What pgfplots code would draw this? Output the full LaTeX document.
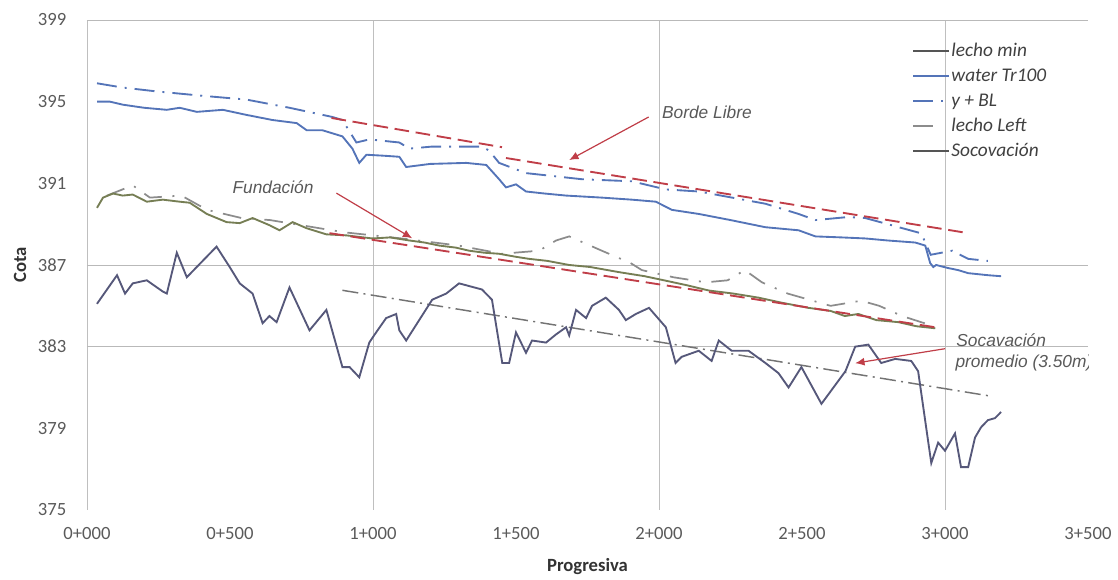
\documentclass[border=0pt]{standalone}
\usepackage{fontspec}
\setmainfont{Carlito}
\newfontfamily\arialf{Liberation Sans}
\usepackage{pgfplots}
\pgfplotsset{compat=1.18}
\usetikzlibrary{arrows.meta}
\definecolor{cblue}{RGB}{84,116,184}
\definecolor{colive}{RGB}{118,126,84}
\definecolor{cgray}{RGB}{140,140,140}
\definecolor{cslate}{RGB}{86,88,122}
\definecolor{cred}{RGB}{192,62,72}
\definecolor{ctick}{RGB}{90,90,90}
\definecolor{cdark}{RGB}{85,85,85}
\begin{document}
\begin{tikzpicture}
\useasboundingbox (-65.25pt,-52.5pt) rectangle (773.25pt,382.5pt);
\begin{axis}[
  at={(0,0)}, anchor=south west,
  scale only axis, width=750.75pt, height=367.5pt,
  xmin=0, xmax=3500, ymin=375, ymax=399,
  xtick={0,500,...,3500},
  xticklabels={0+000,0+500,1+000,1+500,2+000,2+500,3+000,3+500},
  ytick={375,379,...,399},
  /pgf/number format/assume math mode=true,
  axis line style={draw=none},
  major tick length=0pt,
  ticklabel style={font=\fontsize{14}{16}\selectfont, text=ctick},
  yticklabel style={xshift=-12pt},
  xticklabel style={yshift=-9.5pt},
  extra y ticks={383,387,399}, extra y tick labels={},
  extra y tick style={grid=major, major grid style={draw=gray!55, line width=0.7pt}},
  extra x ticks={0,1000,2000,3000}, extra x tick labels={},
  extra x tick style={grid=major, major grid style={draw=gray!50, line width=0.7pt}},
  xlabel={Progresiva}, ylabel={Cota},
  label style={font=\bfseries\fontsize{14}{16}\selectfont, text=black!80},
  xlabel style={at={(axis description cs:0.5,0)}, anchor=center, yshift=-42.75pt},
  ylabel style={at={(axis description cs:-0.0669,0.5)}, anchor=center},
  legend style={at={(rel axis cs:0.82,0.965)}, anchor=north west, draw=none, fill=none,
    font=\itshape\fontsize{14.5}{16}\selectfont, text=black!75, row sep=2.25pt,
    nodes={text height=11pt, text depth=3.5pt, inner sep=1pt}},
  legend cell align=left,
  legend image code/.code={\draw[#1] (0pt,0pt) -- (27pt,0pt);},
]
\addlegendimage{cdark, line width=1.3pt}
\addlegendentry{lecho min}
\addlegendimage{cblue, line width=1.5pt}
\addlegendentry{water Tr100}
\addlegendimage{cblue, line width=1.5pt, dash pattern=on 15pt off 6pt on 1.5pt off 6pt}
\addlegendentry{y + BL}
\addlegendimage{cgray, line width=1.3pt, dash pattern=on 15pt off 14pt}
\addlegendentry{lecho Left}
\addlegendimage{cdark, line width=1.3pt}
\addlegendentry{Socovación}

% Socavacion promedio (dash-dot)
\addplot[forget plot, gray!90!black, line width=1.1pt, dash pattern=on 12pt off 4pt on 1.5pt off 4pt] coordinates {(893,385.76) (3150,380.6)};

% water Tr100
\addplot[forget plot, cblue, line width=1.4pt] coordinates {
(35,395.0)(80,395.0)(126,394.85)(200,394.7)(279,394.6)(324,394.7)(384,394.5)(475,394.6)(558,394.35)(649,394.1)(733,393.95)(768,393.6)(823,393.6)(893,393.3)(928,392.7)(952,392.0)(977,392.4)(1040,392.35)(1092,392.3)(1116,391.8)(1200,391.95)(1326,392.0)(1396,391.9)(1441,391.2)(1465,390.8)(1500,390.95)(1535,390.6)(1600,390.5)(1675,390.4)(1800,390.3)(1905,390.2)(1989,390.1)(2045,389.7)(2139,389.5)(2250,389.2)(2372,388.85)(2488,388.7)(2547,388.4)(2640,388.35)(2721,388.3)(2800,388.2)(2896,388.1)(2931,387.95)(2948,387.1)(2959,386.9)(2969,387.0)(3011,386.85)(3046,386.75)(3081,386.6)(3150,386.5)(3196,386.45)};

% y + BL
\addplot[forget plot, cblue, line width=1.4pt, dash pattern=on 15pt off 6pt on 1.5pt off 6pt] coordinates {
(35,395.9)(120,395.7)(244,395.5)(394,395.3)(558,395.1)(708,394.7)(858,394.25)(893,394.1)(942,393.0)(987,393.15)(1092,393.0)(1127,392.7)(1207,392.8)(1382,392.8)(1406,392.6)(1441,392.0)(1535,391.5)(1731,391.2)(1905,391.1)(2024,390.7)(2139,390.6)(2372,390.0)(2488,389.5)(2547,389.2)(2662,389.35)(2721,389.3)(2917,388.55)(2950,387.5)(3025,387.7)(3081,387.3)(3150,387.2)};

% lecho Left
\addplot[forget plot, cgray, line width=1.3pt, dash pattern=on 14pt off 8pt on 1.5pt off 8pt] coordinates {
(70,390.4)(160,390.9)(220,390.3)(330,390.4)(420,389.7)(540,389.3)(640,389.2)(770,388.9)(900,388.6)(1100,388.3)(1300,387.95)(1450,387.55)(1581,387.7)(1640,388.2)(1686,388.4)(1735,388.1)(1800,387.7)(1900,387.1)(1940,386.75)(2050,386.4)(2163,386.15)(2240,386.25)(2300,386.75)(2360,386.15)(2450,385.6)(2600,385.0)(2707,385.25)(2770,385.0)(2850,384.5)(2950,384.05)};

% lecho min
\addplot[forget plot, colive, line width=1.4pt] coordinates {
(35,389.8)(56,390.3)(91,390.5)(125,390.4)(160,390.45)(209,390.1)(265,390.2)(324,390.1)(359,390.05)(419,389.5)(488,389.1)(534,389.05)(579,389.3)(638,388.95)(673,388.7)(719,389.1)(768,388.8)(837,388.5)(907,388.45)(998,388.3)(1060,388.35)(1127,388.2)(1180,388.1)(1232,387.95)(1290,387.85)(1336,387.7)(1390,387.6)(1441,387.55)(1500,387.4)(1546,387.3)(1610,387.2)(1686,387.0)(1760,386.9)(1860,386.65)(1950,386.45)(2034,386.2)(2100,386.0)(2174,385.75)(2260,385.6)(2348,385.4)(2430,385.15)(2523,384.9)(2600,384.75)(2650,384.5)(2697,384.6)(2760,384.3)(2837,384.2)(2900,384.0)(2966,383.9)};

% Socovacion
\addplot[forget plot, cslate, line width=1.4pt] coordinates {
(35,385.1)(45,385.3)(70,385.8)(105,386.5)(133,385.6)(160,386.1)(209,386.25)(265,385.7)(279,385.6)(314,387.6)(349,386.4)(453,387.9)(499,386.9)(534,386.1)(579,385.6)(614,384.15)(638,384.5)(663,384.2)(708,385.9)(778,383.8)(837,384.8)(893,382.0)(918,382.0)(952,381.5)(987,383.2)(1011,383.7)(1046,384.4)(1081,384.6)(1092,383.8)(1116,383.3)(1207,385.3)(1256,385.6)(1301,386.1)(1381,385.8)(1416,385.3)(1452,382.2)(1476,382.2)(1500,383.7)(1535,382.7)(1556,383.3)(1605,383.2)(1640,383.6)(1675,383.95)(1686,383.55)(1710,384.8)(1745,384.4)(1766,385.0)(1814,385.4)(1860,384.8)(1884,384.3)(1919,384.6)(1965,384.9)(2024,383.95)(2058,382.2)(2079,382.5)(2139,382.8)(2184,382.3)(2209,383.3)(2254,382.8)(2313,382.8)(2372,382.2)(2418,381.7)(2453,381.0)(2498,382.0)(2568,380.2)(2652,381.8)(2686,383.0)(2732,383.1)(2777,382.2)(2826,382.4)(2882,382.3)(2906,381.8)(2952,377.3)(2976,378.3)(3000,377.9)(3035,378.75)(3056,377.1)(3081,377.1)(3105,378.55)(3126,379.05)(3150,379.4)(3175,379.5)(3196,379.8)};

% red design lines
\addplot[forget plot, cred, line width=1.4pt, dash pattern=on 11pt off 5pt] coordinates {(855,394.2) (1451,392.77)};
\addplot[forget plot, cred, line width=1.4pt, dash pattern=on 11pt off 5pt] coordinates {(1465,392.24) (3081,388.56)};
\addplot[forget plot, cred, line width=1.4pt, dash pattern=on 11pt off 5pt] coordinates {(848,388.56) (2966,383.95)};

% annotations
\draw[cred, line width=0.9pt, -{Latex[length=7pt,width=6pt]}] (axis cs:1964,394.25) -- (axis cs:1686,392.14);
\draw[cred, line width=0.9pt, -{Latex[length=7pt,width=6pt]}] (axis cs:872,390.52) -- (axis cs:1137,388.31);
\draw[cred, line width=0.9pt, -{Latex[length=7pt,width=6pt]}] (axis cs:3000,382.9) -- (axis cs:2686,382.19);
\node[anchor=west, font=\arialf\itshape\fontsize{13}{15}\selectfont, text=black!65, inner sep=0pt] at (axis cs:2010,394.49) {Borde Libre};
\node[anchor=west, font=\arialf\itshape\fontsize{13}{15}\selectfont, text=black!65, inner sep=0pt] at (axis cs:508,390.8) {Fundación};
\node[anchor=west, font=\arialf\itshape\fontsize{13}{15}\selectfont, text=black!65, inner sep=0pt] at (axis cs:3039,383.3) {Socavación};
\node[anchor=west, font=\arialf\itshape\fontsize{13}{15}\selectfont, text=black!65, inner sep=0pt] at (axis cs:3036,382.2) {promedio (3.50m)};
\end{axis}
\end{tikzpicture}
\end{document}
